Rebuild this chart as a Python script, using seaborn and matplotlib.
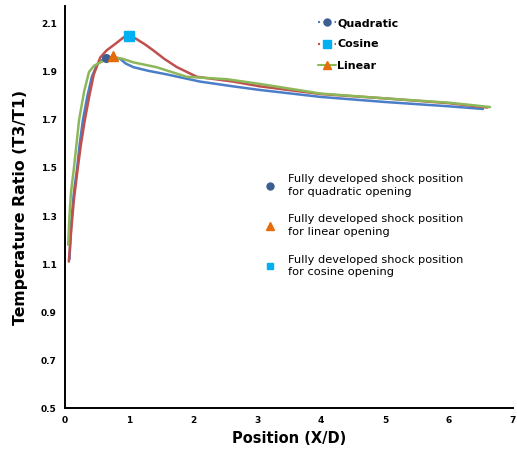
import matplotlib
matplotlib.use("Agg")
import matplotlib.pyplot as plt
from matplotlib.lines import Line2D
import seaborn as sns
import pandas as pd

# ---- data ----
quad_x = [0.07, 0.1, 0.14, 0.19, 0.23, 0.28, 0.35, 0.42, 0.5, 0.58, 0.64, 0.75, 0.86, 0.95, 1.07, 1.3, 1.59, 2.11, 2.63, 3.05, 4.0, 5.0, 6.0, 6.53]
quad_y = [1.12, 1.28, 1.40, 1.50, 1.60, 1.70, 1.80, 1.88, 1.93, 1.95, 1.958, 1.962, 1.955, 1.935, 1.92, 1.905, 1.89, 1.86, 1.84, 1.825, 1.796, 1.775, 1.757, 1.746]
cos_x = [0.06, 0.1, 0.14, 0.2, 0.25, 0.31, 0.38, 0.45, 0.55, 0.65, 0.8, 0.92, 1.0, 1.1, 1.25, 1.38, 1.55, 1.75, 2.06, 2.63, 3.05, 4.0, 5.0, 6.0, 6.6]
cos_y = [1.11, 1.25, 1.37, 1.50, 1.60, 1.70, 1.80, 1.89, 1.96, 1.99, 2.02, 2.045, 2.05, 2.04, 2.015, 1.99, 1.955, 1.92, 1.88, 1.86, 1.84, 1.808, 1.79, 1.77, 1.752]
lin_x = [0.05, 0.07, 0.094, 0.14, 0.18, 0.22, 0.3, 0.375, 0.45, 0.55, 0.68, 0.8, 0.9, 1.07, 1.43, 1.9, 2.53, 3.05, 4.0, 5.0, 6.0, 6.64]
lin_y = [1.18, 1.30, 1.40, 1.50, 1.60, 1.70, 1.82, 1.90, 1.925, 1.94, 1.955, 1.96, 1.955, 1.94, 1.92, 1.88, 1.87, 1.85, 1.81, 1.79, 1.772, 1.754]

shock_labels = ["Quadratic", "Linear", "Cosine"]
shock_x = [0.64, 0.75, 1.0]
shock_y = [1.958, 1.967, 2.05]

x_ticks = [0, 1, 2, 3, 4, 5, 6, 7]
y_ticks = [0.5, 0.7, 0.9, 1.1, 1.3, 1.5, 1.7, 1.9, 2.1]

# ---- styling ----
sns.set_style("white")
plt.rcParams['font.family'] = ['DejaVu Sans']
plt.rcParams['text.color'] = 'black'
plt.rcParams['axes.labelcolor'] = 'black'
plt.rcParams['xtick.color'] = 'black'
plt.rcParams['ytick.color'] = 'black'

c_quad = "#4A7EC8"
c_cos = "#C0504D"
c_lin = "#8DB85A"
m_quad = "#3B5E93"
m_lin = "#E46C0A"
m_cos = "#00B0F0"

df = pd.concat([
    pd.DataFrame({"x": quad_x, "y": quad_y, "s": "Quadratic"}),
    pd.DataFrame({"x": cos_x, "y": cos_y, "s": "Cosine"}),
    pd.DataFrame({"x": lin_x, "y": lin_y, "s": "Linear"}),
])

fig = plt.figure(figsize=(5.17, 4.5), dpi=100)
ax = fig.add_axes([0.1257, 0.0933, 0.8666, 0.8934])

sns.lineplot(data=df, x="x", y="y", hue="s", sort=False, estimator=None,
             palette={"Quadratic": c_quad, "Cosine": c_cos, "Linear": c_lin},
             linewidth=1.8, legend=False, ax=ax)

ax.plot([shock_x[0]], [shock_y[0]], marker="o", ms=5.5, color=m_quad, ls="none", zorder=5)
ax.plot([shock_x[1]], [shock_y[1]], marker="^", ms=6.5, color=m_lin, ls="none", zorder=5)
ax.plot([shock_x[2]], [shock_y[2]], marker="s", ms=6.5, color=m_cos, ls="none", zorder=5)

ax.set_xlim(0, 7)
ax.set_ylim(0.5, 2.175)
ax.set_xticks(x_ticks)
ax.set_yticks(y_ticks)
ax.set_xticklabels([str(t) for t in x_ticks], fontsize=6.5, fontweight="bold")
ax.set_yticklabels([f"{t:.1f}" for t in y_ticks], fontsize=6.5, fontweight="bold")
ax.tick_params(axis="both", direction="out", length=3, width=1, color="black", pad=3)
for side in ["top", "right"]:
    ax.spines[side].set_visible(False)
for side in ["left", "bottom"]:
    ax.spines[side].set_color("black")
    ax.spines[side].set_linewidth(1.4)

ax.set_xlabel("Position (X/D)", fontsize=10.5, fontweight="bold", labelpad=4)
ax.set_ylabel("Temperature Ratio (T3/T1)", fontsize=11.3, fontweight="bold", labelpad=9)

# legend 1 (series)
h1 = [
    Line2D([], [], color=c_quad, ls=":", lw=1.5, marker="o", ms=5, mfc=m_quad, mec=m_quad),
    Line2D([], [], color=c_cos, ls=":", lw=1.5, marker="s", ms=5.5, mfc=m_cos, mec=m_cos),
    Line2D([], [], color=c_lin, ls="-", lw=1.5, marker="^", ms=6, mfc=m_lin, mec=m_lin),
]
fig.legend(h1, ["Quadratic", "Cosine", "Linear"], loc="upper left",
           bbox_to_anchor=(308 / 517, 1 - 8 / 450), bbox_transform=fig.transFigure,
           frameon=False, handlelength=1.6, handletextpad=0.15, labelspacing=1.03,
           prop={"weight": "bold", "size": 8})

# legend 2 (shock positions), one entry per legend for exact placement
h2 = [
    Line2D([], [], ls="none", marker="o", ms=5, mfc=m_quad, mec=m_quad),
    Line2D([], [], ls="none", marker="^", ms=6, mfc=m_lin, mec=m_lin),
    Line2D([], [], ls="none", marker="s", ms=5, mfc=m_cos, mec=m_cos),
]
labs2 = ["Fully developed shock position\nfor quadratic opening",
         "Fully developed shock position\nfor linear opening",
         "Fully developed shock position\nfor cosine opening"]
centers = [185.5, 225.5, 266]
for h, lab, cy in zip(h2, labs2, centers):
    lg = fig.legend([h], [lab], loc="center left",
                    bbox_to_anchor=(264 / 517, 1 - cy / 450), bbox_transform=fig.transFigure,
                    frameon=False, handlelength=1.0, handletextpad=1.1,
                    borderpad=0, borderaxespad=0, prop={"size": 8.2})
    for t in lg.get_texts():
        t.set_linespacing(1.3)

fig.savefig("out.png", dpi=100)
